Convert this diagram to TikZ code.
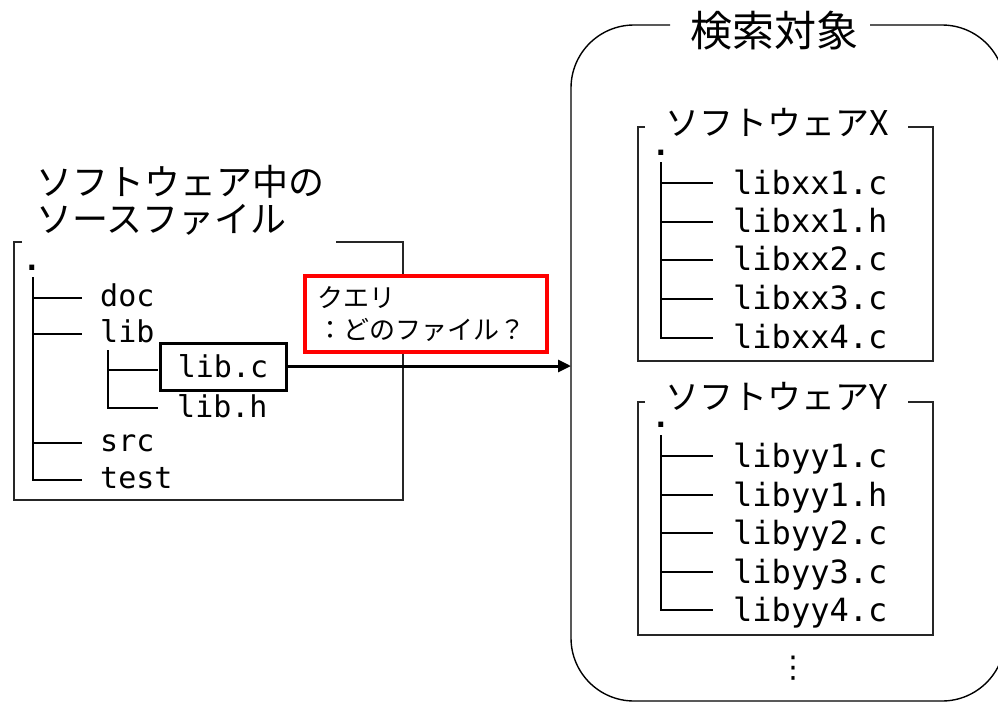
\documentclass[tikz,border=0pt]{standalone}
\usepackage{fontspec}
\newfontfamily\jp{Noto Sans CJK JP}
\newfontfamily\mono{DejaVu Sans Mono}
\newfontfamily\sym{DejaVu Sans}
\usetikzlibrary{arrows.meta}
\begin{document}
\begin{tikzpicture}[x=1pt,y=-1pt,
  frame/.style={line width=1.4pt,draw=black!85},
  tree/.style={line width=2pt},
  fname/.style={font=\mono\fontsize{30}{30}\selectfont,inner sep=0pt,anchor=base west},
  rname/.style={font=\mono\fontsize{32}{32}\selectfont,inner sep=0pt,anchor=base west},
  dotn/.style={font=\mono\bfseries\fontsize{30}{30}\selectfont,inner sep=0pt,anchor=base},
  jtitle/.style={font=\jp\fontsize{36}{37}\selectfont,inner sep=0pt},
  swtitle/.style={font=\jp\fontsize{34}{34}\selectfont,inner sep=0pt},
  qbox/.style={draw=red,line width=3.8pt,fill=white,minimum width=242pt,minimum height=76pt,
    text width=218pt,inner xsep=12pt,align=left,font=\jp\fontsize{26}{32}\selectfont},
  selbox/.style={draw,line width=3pt,minimum width=126pt,minimum height=47pt,inner sep=0pt,
    font=\mono\fontsize{30}{30}\selectfont},
]
\useasboundingbox (0,0) rectangle (998,702);

% ---------- left: source files ----------
\node[jtitle,align=left,anchor=west] (ltitle) at (36,200) {ソフトウェア中の\\ソースファイル};
\draw[frame] (22,242) -- (14,242) -- (14,500) -- (403,500) -- (403,242) -- (336,242);

\node[dotn] (ldot) at (32,270) {.};
\coordinate (ltop) at (33,277);
\node[fname] (doc) at (100,306) {doc};
\node[fname] (lib) at (100,342) {lib};
\node[fname] (src) at (100,451) {src};
\node[fname] (test) at (100,488) {test};
\coordinate (lbot) at (33,480);
\draw[tree] (ltop) -- (lbot) -- (82,480);
\draw[tree] (33,298) -- (82,298);
\draw[tree] (33,334) -- (82,334);
\draw[tree] (33,443) -- (82,443);

\node[selbox] (libc) at (223,366.5) {lib.c};
\node[fname] (libh) at (177,417) {lib.h};
\coordinate (stop) at (108,350);
\draw[tree] (stop) -- (108,408) -- (158,408);
\draw[tree] (108,370) -- (158,370);

% ---------- query ----------
\node[qbox] (query) at (426,314) {クエリ\\：どのファイル？};

% ---------- right: search target ----------
\draw[line width=1.4pt,rounded corners=63pt] (670,25) -- (571,25) -- (571,701) -- (1005,701) -- (1005,25) -- (870,25);
\node[font=\jp\fontsize{42}{42}\selectfont,inner sep=0pt] (target) at (774,31) {検索対象};
\coordinate (tleft) at (571,366);
\draw[line width=3pt,-{Triangle[length=13pt,width=12pt]}] (libc.east |- tleft) -- (tleft);

% software X
\draw[frame] (645,127) -- (638,127) -- (638,361) -- (933,361) -- (933,127) -- (908,127);
\node[swtitle] (swx) at (777,123) {ソフトウェアX};
\node[dotn] (xdot) at (661,155) {.};
\node[rname] (x1) at (733,194) {libxx1.c};
\node[rname] (x2) at (733,232) {libxx1.h};
\node[rname] (x3) at (733,270) {libxx2.c};
\node[rname] (x4) at (733,309) {libxx3.c};
\node[rname] (x5) at (733,348) {libxx4.c};
\draw[tree] (661,162) -- (661,338) -- (713,338);
\foreach \yy in {183,222,260,299} \draw[tree] (661,\yy) -- (713,\yy);

% software Y
\draw[frame] (645,402) -- (638,402) -- (638,635) -- (933,635) -- (933,402) -- (908,402);
\node[swtitle] (swy) at (777,397) {ソフトウェアY};
\node[dotn] (ydot) at (661,427) {.};
\node[rname] (y1) at (733,467) {libyy1.c};
\node[rname] (y2) at (733,506) {libyy1.h};
\node[rname] (y3) at (733,544) {libyy2.c};
\node[rname] (y4) at (733,583) {libyy3.c};
\node[rname] (y5) at (733,621) {libyy4.c};
\draw[tree] (661,435) -- (661,610) -- (713,610);
\foreach \yy in {456,495,533,572} \draw[tree] (661,\yy) -- (713,\yy);

\node[font=\sym\fontsize{30}{30}\selectfont,inner sep=0pt] (more) at (793,668) {⋮};
\end{tikzpicture}
\end{document}
